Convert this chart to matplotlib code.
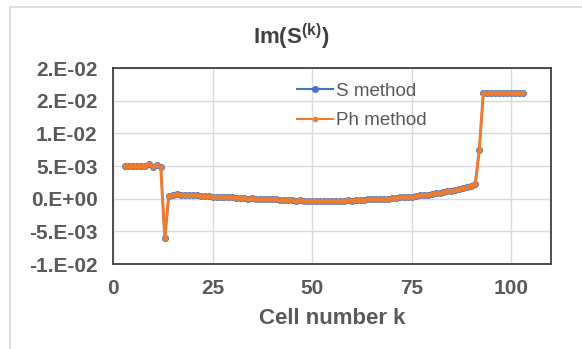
import matplotlib
matplotlib.use('Agg')
import matplotlib.pyplot as plt
from matplotlib.lines import Line2D

plt.rcParams['font.family'] = ['Liberation Sans', 'DejaVu Sans']
plt.rcParams['mathtext.fontset'] = 'custom'
plt.rcParams['mathtext.rm'] = 'Liberation Sans'
plt.rcParams['mathtext.bf'] = 'Liberation Sans:bold'

# cell numbers 3..103
cells = list(range(3, 104))

# Im(S^(k)), one value per cell
ph_method = [
    0.0050, 0.0050, 0.0050, 0.0050, 0.0050, 0.0050, 0.0053, 0.0049, 0.0051, 0.0048,  # 3-12
    -0.0060,  # 13
    0.0004, 0.0006, 0.0007, 0.0006, 0.0006, 0.0005, 0.0005, 0.0005, 0.0004, 0.0004,  # 14-23
    0.0004, 0.0003, 0.0003, 0.0003, 0.0002, 0.0002, 0.0002, 0.0001, 0.0001, 0.0001,  # 24-33
    0.0000, 0.0001, 0.0000, 0.0000, -0.0001, -0.0001, -0.0001, -0.0001, -0.0002, -0.0002,  # 34-43
    -0.0002, -0.0002, -0.0003, -0.0002, -0.0003, -0.0003, -0.0003, -0.0003, -0.0004, -0.0003,  # 44-53
    -0.0003, -0.0004, -0.0003, -0.0003, -0.0003, -0.0002, -0.0003, -0.0002, -0.0002, -0.0002,  # 54-63
    -0.0001, -0.0001, -0.0001, 0.0000, 0.0000, 0.0000, 0.0001, 0.0001, 0.0002, 0.0002,  # 64-73
    0.0003, 0.0003, 0.0004, 0.0005, 0.0006, 0.0006, 0.0007, 0.0008, 0.0009, 0.0010,  # 74-83
    0.0011, 0.0012, 0.0013, 0.0015, 0.0016, 0.0018, 0.0020, 0.0023,  # 84-91
    0.0075,  # 92
    0.0162, 0.0162, 0.0162, 0.0162, 0.0162, 0.0162, 0.0162, 0.0162, 0.0162, 0.0162, 0.0162,  # 93-103
]
# the two methods agree to the eye
s_method = list(ph_method)

x_ticks = [0, 25, 50, 75, 100]
y_ticks = [-0.01, -0.005, 0.0, 0.005, 0.01, 0.015, 0.02]
y_tick_labels = ['-1.E-02', '-5.E-03', '0.E+00', '5.E-03', '1.E-02', '2.E-02', '2.E-02']

blue = '#4472C4'
orange = '#ED7D31'
txt = '#595959'
grid_c = '#D9D9D9'

fig = plt.figure(figsize=(5.82, 3.49), dpi=100)
ax = fig.add_axes([113 / 582, 1 - 264 / 349, 438 / 582, 196 / 349])

# outer chart border (light gray)
fig.add_artist(Line2D([10 / 582, 10 / 582], [0, 1 - 7 / 349], color=grid_c, lw=1.2))
fig.add_artist(Line2D([10 / 582, 1], [1 - 7 / 349, 1 - 7 / 349], color=grid_c, lw=1.2))

ax.plot(cells, s_method, color=blue, lw=1.5, marker='o', ms=4, label='S method', zorder=3)
ax.plot(cells, ph_method, color=orange, lw=2.2, marker='o', ms=3, label='Ph method', zorder=4)

ax.set_xlim(0, 110)
ax.set_ylim(-0.01, 0.02)
ax.set_xticks(x_ticks)
ax.set_yticks(y_ticks)
ax.set_yticklabels(y_tick_labels)
ax.grid(True, color=grid_c, lw=1.0)
ax.set_axisbelow(True)
ax.tick_params(length=0, labelsize=15, labelcolor=txt, pad=11)
for lab in ax.get_xticklabels() + ax.get_yticklabels():
    lab.set_fontweight('bold')
for sp in ax.spines.values():
    sp.set_color('#404040')
    sp.set_linewidth(1.3)

ax.set_xlabel('Cell number k', fontsize=16, fontweight='bold', color=txt, labelpad=7)

fig.text(0.5, 1 - 37 / 349, r'$\mathbf{Im(S^{(k)})}$', ha='center', va='center',
         fontsize=16, color='#404040')

leg = ax.legend(loc='upper left', bbox_to_anchor=(0.42, 0.925), frameon=False,
                fontsize=13.5, labelcolor=txt, handlelength=1.9, handletextpad=0.2,
                labelspacing=0.65, borderpad=0, borderaxespad=0)
for h in leg.legend_handles:
    h.set_linewidth(1.5)

fig.savefig('out.png', dpi=100)
